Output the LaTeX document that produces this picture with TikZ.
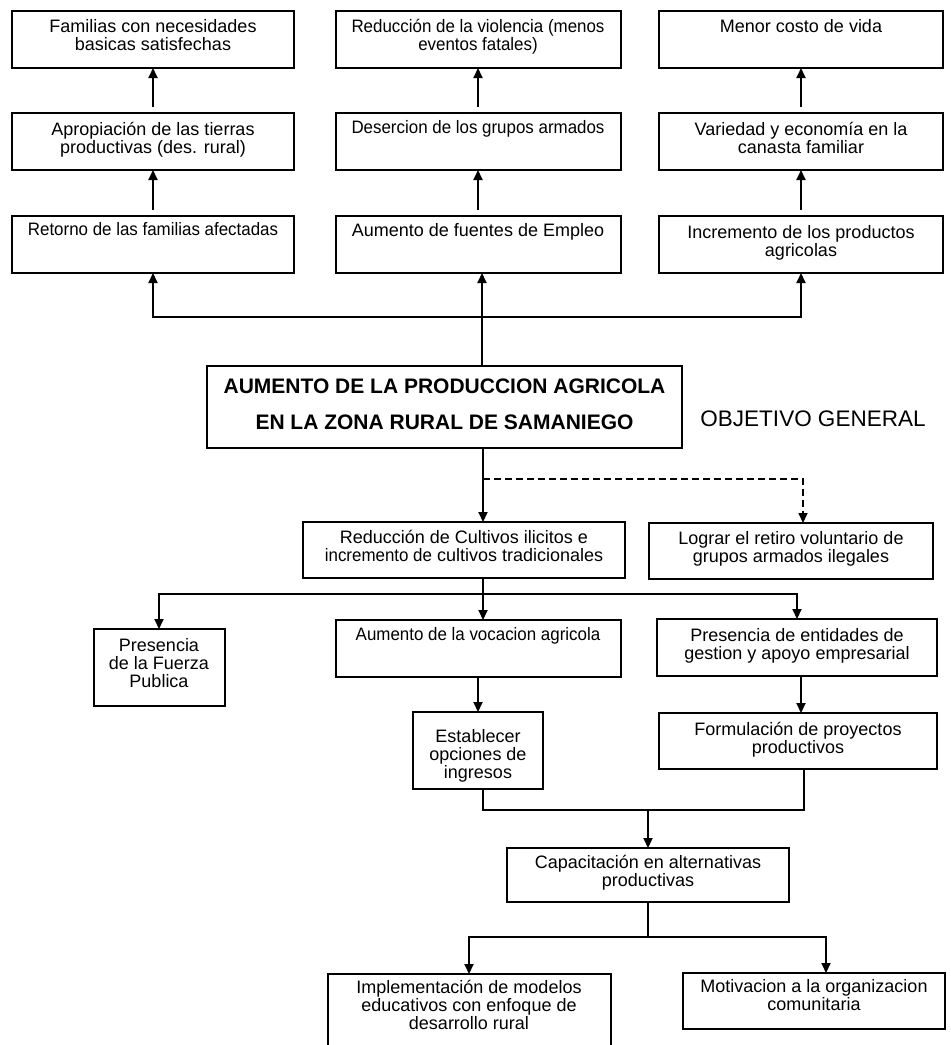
\documentclass[tikz,border=0pt]{standalone}
\usepackage{fontspec}
\setmainfont{Liberation Sans}
\usetikzlibrary{arrows.meta}

% text set at the top of a fixed-size box: width, height, first baseline, text
\newcommand\boxtext[4]{\parbox[t][#2][t]{#1}{\centering\fontsize{18}{18}\selectfont\rule{0pt}{#3}#4\par}}
% slightly condensed lines
\newcommand\tight{\addfontfeature{FakeStretch=0.94}}

\tikzset{
  box/.style={draw, line width=2pt, inner sep=0pt, outer sep=0pt},
  conn/.style={line width=2pt},
  arr/.style={conn, -{Triangle[length=10pt,width=9pt]}},
  dasharr/.style={arr, line width=1.6pt, dash pattern=on 7pt off 4pt},
}

\begin{document}
\begin{tikzpicture}[x=1pt, y=-1pt]
\useasboundingbox (0,0) rectangle (951,1045);
\clip (0,0) rectangle (951,1045);

% results, top three rows
\node[box] (A1) at (153,39.5) {\boxtext{282pt}{57pt}{21pt}{Familias con necesidades\\basicas satisfechas}};
\node[box] (B1) at (478,39.5) {\boxtext{285pt}{57pt}{21pt}{\tight Reducción de la violencia (menos\\eventos fatales)}};
\node[box] (C1) at (801,39.5) {\boxtext{284pt}{57pt}{21pt}{Menor costo de vida}};

\node[box] (A2) at (153,141.5) {\boxtext{282pt}{57pt}{22pt}{Apropiación de las tierras\\productivas (des. rural)}};
\node[box] (B2) at (478,141.5) {\boxtext{285pt}{57pt}{20pt}{\tight Desercion de los grupos armados}};
\node[box] (C2) at (801,141.5) {\boxtext{284pt}{57pt}{22pt}{Variedad y economía en la\\canasta familiar}};

\node[box] (A3) at (153,244.5) {\boxtext{282pt}{57pt}{19pt}{\tight Retorno de las familias afectadas}};
\node[box] (B3) at (478,244.5) {\boxtext{285pt}{57pt}{20pt}{Aumento de fuentes de Empleo}};
\node[box] (C3) at (801,244.5) {\boxtext{284pt}{57pt}{22pt}{Incremento de los productos\\agricolas}};

% general objective
\node[box] (main) at (444.5,407) {\parbox[t][82pt][t]{475pt}{\centering\fontsize{21}{36}\selectfont\bfseries\rule{0pt}{27pt}AUMENTO DE LA PRODUCCION AGRICOLA\\EN LA ZONA RURAL DE SAMANIEGO\par}};
\node[font=\fontsize{22.5}{22.5}\selectfont, inner sep=0pt] (obj) at (813,419) {OBJETIVO GENERAL};

% means
\node[box] (cult) at (464,550) {\boxtext{322pt}{56pt}{21pt}{Reducción de Cultivos ilicitos e\\{\tight incremento de} cultivos tradicionales}};
\node[box] (ret) at (791,551)  {\boxtext{284pt}{56pt}{21pt}{Lograr el retiro voluntario de\\grupos armados ilegales}};

\node[box] (fuerza) at (159,667.5) {\boxtext{131pt}{77pt}{22pt}{Presencia\\de la Fuerza\\Publica}};
\node[box] (voc) at (478,648.5)    {\boxtext{285pt}{57pt}{20pt}{\tight Aumento de la vocacion agricola}};
\node[box] (pres) at (797,647.5)   {\boxtext{280pt}{57pt}{22pt}{Presencia de entidades de\\gestion y apoyo empresarial}};

\node[box] (est) at (478,750.5) {\boxtext{130pt}{77pt}{30pt}{Establecer\\opciones de\\ingresos}};
\node[box] (form) at (798,741)  {\boxtext{278pt}{56pt}{22pt}{Formulación de proyectos\\productivos}};

\node[box] (cap) at (648,875) {\boxtext{282pt}{54pt}{20pt}{Capacitación en alternativas\\productivas}};

\node[box] (impl) at (469,1019) {\boxtext{283pt}{90pt}{19pt}{Implementación de modelos\\educativos con enfoque de\\desarrollo rural}};
\node[box] (mot) at (814,1001)  {\boxtext{262pt}{56pt}{19pt}{Motivacion a la organizacion\\comunitaria}};

% upward chains of results
\draw[arr, shorten <=6pt] (A2.north) -- (A1.south);
\draw[arr, shorten <=6pt] (B2.north) -- (B1.south);
\draw[arr, shorten <=6pt] (C2.north) -- (C1.south);
\draw[arr, shorten <=6pt] (A3.north) -- (A2.south);
\draw[arr, shorten <=6pt] (B3.north) -- (B2.south);
\draw[arr, shorten <=6pt] (C3.north) -- (C2.south);

% objective to results
\coordinate (j1) at (482,317);
\draw[conn] (j1 |- main.north) -- (j1);
\draw[arr] (j1) -| (A3.south);
\draw[arr] (j1) -| (C3.south);
\draw[arr] (j1) -- (j1 |- B3.south);

% objective to means
\coordinate (j2) at (483,479);
\draw[arr] (j2 |- main.south) -- (j2 |- cult.north);
\draw[dasharr] (j2) -| ([xshift=12pt]ret.north);

\coordinate (j3) at (483,594);
\draw[conn] (j3 |- cult.south) -- (j3);
\draw[arr] (j3) -| (fuerza.north);
\draw[arr] (j3) -- (j3 |- voc.north);
\draw[arr] (j3) -| (pres.north);

\draw[arr] (voc.south) -- (est.north);
\draw[arr] ([xshift=4pt]pres.south) -- ([xshift=4pt]pres.south |- form.north);

\coordinate (j4) at (648,810);
\draw[conn] ([xshift=5pt]est.south) |- (j4) -| ([xshift=6pt]form.south);
\draw[arr] (j4) -- (cap.north);

\coordinate (j5) at (648,937);
\draw[conn] (cap.south) -- (j5);
\draw[arr] (j5) -| (impl.north);
\draw[arr] (j5) -| ([xshift=12pt]mot.north);
\end{tikzpicture}
\end{document}
